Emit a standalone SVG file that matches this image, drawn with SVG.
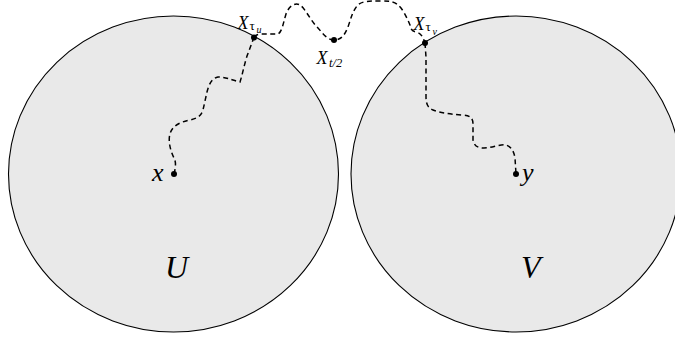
<svg xmlns="http://www.w3.org/2000/svg" width="675" height="337" viewBox="0 0 675 337">
<style>
.region{fill:#e9e9e9;stroke:#000;stroke-width:1.1}
.walk{fill:none;stroke:#000;stroke-width:1.5;stroke-dasharray:5,3.5}
.pt{fill:#000}
text{font-family:"Liberation Serif","Times New Roman",serif;fill:#000}
.it{font-style:italic}
</style>
<rect width="675" height="337" fill="#fff"/>
<g id="U">
<ellipse class="region" cx="173.5" cy="174" rx="165" ry="158"/>
<text class="it" font-size="32" x="165" y="278">U</text>
</g>
<g id="V">
<ellipse class="region" cx="516" cy="174" rx="165" ry="158"/>
<text class="it" font-size="32" x="521" y="278">V</text>
</g>
<g id="connectors">
<path class="walk" d="M174,174 C176,166 176,162 174,158 C170,150 168,140 170,134 C172,126 180,122 190,120 C198,118 201,116 203,110 L207,92 C209,84 212,78 218,77 C226,77 232,80 240,82 C242,76 244,66 247,56 C250,48 252,43 254,37"/>
<path class="walk" d="M254,37 C256,35 258,34 262,34 L278,34 C282,32 283,24 286,14 C289,6 295,2 300,5 C305,8 310,20 318,28 C324,35 328,40 334,40 C342,40 345,34 348,27 C351,18 353,10 358,5 C362,1 370,1 380,1 C388,1 394,1 398,5 C403,9 407,18 410,25 C411,30 412,31 416,32 C421,33 423,37 425,43"/>
<path class="walk" d="M425,43 L426,57 L426,97 C426,104 428,108 433,110 C440,113 450,114 462,115 C470,115 473,118 473,124 L473,140 C474,146 478,148 484,148 C492,148 500,144 506,145 C512,147 514,152 515,158 L516,174"/>
</g>
<g id="x">
<circle class="pt" cx="174" cy="174" r="3"/>
<text class="it" font-size="26" x="152" y="181">x</text>
</g>
<g id="y">
<circle class="pt" cx="516" cy="174" r="3"/>
<text class="it" font-size="26" x="522" y="181">y</text>
</g>
<g id="Xtau_u">
<circle class="pt" cx="254" cy="37.5" r="3"/>
<text x="237.5" y="28.5" font-size="18"><tspan class="it">X</tspan><tspan font-size="13" x="249.5" y="29.8">τ</tspan><tspan class="it" font-size="10" x="256.5" y="33">u</tspan></text>
</g>
<g id="Xt2">
<circle class="pt" cx="334" cy="40" r="3"/>
<text x="316.5" y="63.5" font-size="18"><tspan class="it">X</tspan><tspan class="it" font-size="12.5" x="329" y="66.5">t/2</tspan></text>
</g>
<g id="Xtau_v">
<circle class="pt" cx="425" cy="43" r="3"/>
<text x="413.5" y="29.5" font-size="18"><tspan class="it">X</tspan><tspan font-size="13" x="425.5" y="30.8">τ</tspan><tspan class="it" font-size="10" x="432.5" y="34.5">v</tspan></text>
</g>
</svg>
